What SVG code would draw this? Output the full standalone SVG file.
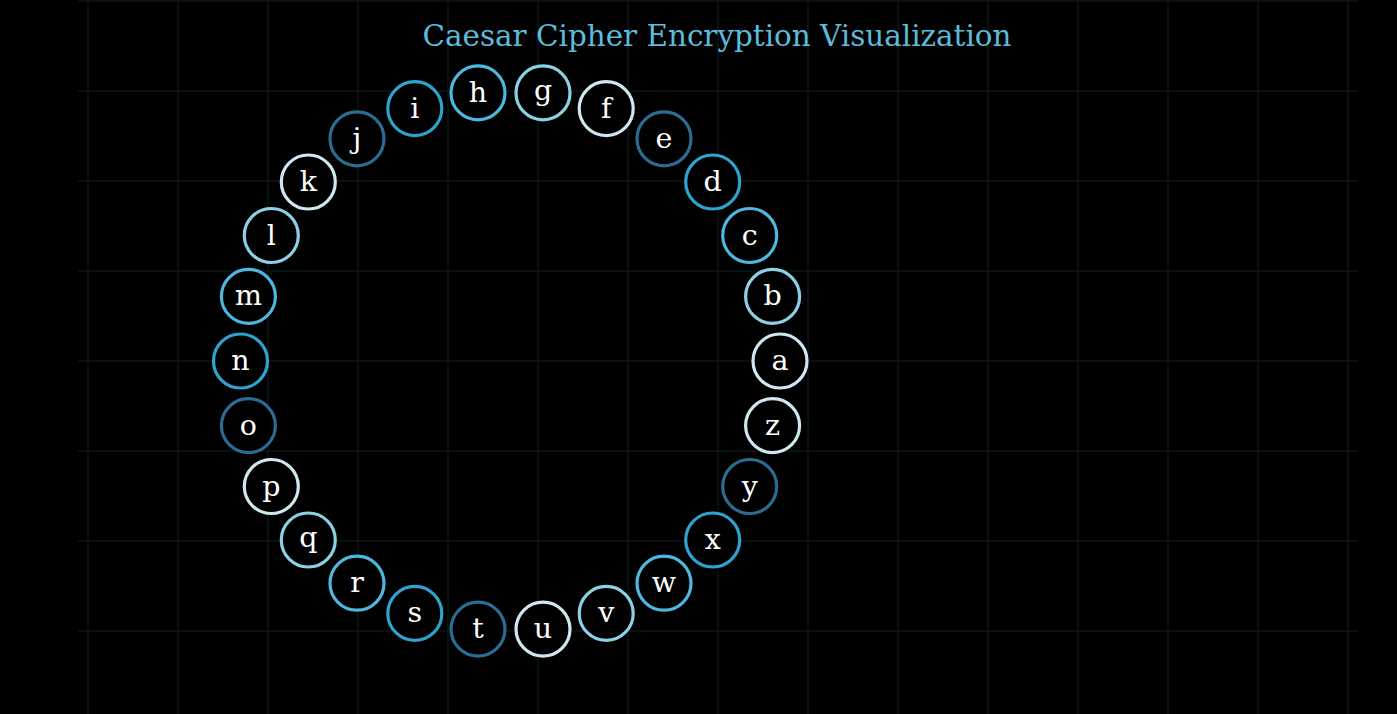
<svg xmlns="http://www.w3.org/2000/svg" width="1397" height="714" viewBox="0 0 1397 714">
<style>
.bg{fill:#000}
.grid line{stroke:#0c1618;stroke-width:1.5}
.title{font-family:"DejaVu Serif","Liberation Serif",serif;font-size:29px;fill:#5cbcdc;text-anchor:middle}
.node circle{fill:#000;stroke-width:3.2}
.node text{font-family:"DejaVu Serif","Liberation Serif",serif;font-size:28.5px;fill:#ffffff;text-anchor:middle}
.c0 circle{stroke:#cfe8f0}
.c1 circle{stroke:#8ccfe6}
.c2 circle{stroke:#4db7dd}
.c3 circle{stroke:#2ea3cf}
.c4 circle{stroke:#2b6c93}
</style>
<rect class="bg" x="0" y="0" width="1397" height="714"/>
<g class="grid" id="grid">
<line x1="88" y1="0" x2="88" y2="714"/><line x1="178" y1="0" x2="178" y2="714"/><line x1="268" y1="0" x2="268" y2="714"/><line x1="358" y1="0" x2="358" y2="714"/><line x1="448" y1="0" x2="448" y2="714"/><line x1="538" y1="0" x2="538" y2="714"/><line x1="628" y1="0" x2="628" y2="714"/><line x1="718" y1="0" x2="718" y2="714"/><line x1="808" y1="0" x2="808" y2="714"/><line x1="898" y1="0" x2="898" y2="714"/><line x1="988" y1="0" x2="988" y2="714"/><line x1="1078" y1="0" x2="1078" y2="714"/><line x1="1168" y1="0" x2="1168" y2="714"/><line x1="1258" y1="0" x2="1258" y2="714"/><line x1="1348" y1="0" x2="1348" y2="714"/>
<line x1="78" y1="1" x2="1358" y2="1"/><line x1="78" y1="91" x2="1358" y2="91"/><line x1="78" y1="181" x2="1358" y2="181"/><line x1="78" y1="271" x2="1358" y2="271"/><line x1="78" y1="361" x2="1358" y2="361"/><line x1="78" y1="451" x2="1358" y2="451"/><line x1="78" y1="541" x2="1358" y2="541"/><line x1="78" y1="631" x2="1358" y2="631"/>
</g>
<text class="title" x="717" y="46" textLength="589" lengthAdjust="spacingAndGlyphs">Caesar Cipher Encryption Visualization</text>
<g id="connectors"></g>
<g id="node-a" class="node c0"><circle cx="780" cy="361" r="27"/><text x="780" y="370">a</text></g>
<g id="node-b" class="node c1"><circle cx="772.6" cy="296.4" r="27"/><text x="772.6" y="305.4">b</text></g>
<g id="node-c" class="node c2"><circle cx="749.7" cy="235.5" r="27"/><text x="749.7" y="244.5">c</text></g>
<g id="node-d" class="node c3"><circle cx="712.7" cy="182" r="27"/><text x="712.7" y="191">d</text></g>
<g id="node-e" class="node c4"><circle cx="664" cy="138.8" r="27"/><text x="664" y="147.8">e</text></g>
<g id="node-f" class="node c0"><circle cx="606.2" cy="108.6" r="27"/><text x="606.2" y="117.6">f</text></g>
<g id="node-g" class="node c1"><circle cx="543" cy="92.9" r="27"/><text x="543" y="99.9">g</text></g>
<g id="node-h" class="node c2"><circle cx="478" cy="92.9" r="27"/><text x="478" y="101.9">h</text></g>
<g id="node-i" class="node c3"><circle cx="414.8" cy="108.6" r="27"/><text x="414.8" y="117.6">i</text></g>
<g id="node-j" class="node c4"><circle cx="357" cy="138.8" r="27"/><text x="357" y="147.8">j</text></g>
<g id="node-k" class="node c0"><circle cx="308.3" cy="182" r="27"/><text x="308.3" y="191">k</text></g>
<g id="node-l" class="node c1"><circle cx="271.3" cy="235.5" r="27"/><text x="271.3" y="244.5">l</text></g>
<g id="node-m" class="node c2"><circle cx="248.4" cy="296.4" r="27"/><text x="248.4" y="305.4">m</text></g>
<g id="node-n" class="node c3"><circle cx="240.5" cy="361" r="27"/><text x="240.5" y="370">n</text></g>
<g id="node-o" class="node c4"><circle cx="248.4" cy="425.6" r="27"/><text x="248.4" y="434.6">o</text></g>
<g id="node-p" class="node c0"><circle cx="271.3" cy="486.5" r="27"/><text x="271.3" y="495.5">p</text></g>
<g id="node-q" class="node c1"><circle cx="308.3" cy="540" r="27"/><text x="308.3" y="547">q</text></g>
<g id="node-r" class="node c2"><circle cx="357" cy="583.2" r="27"/><text x="357" y="592.2">r</text></g>
<g id="node-s" class="node c3"><circle cx="414.8" cy="613.4" r="27"/><text x="414.8" y="622.4">s</text></g>
<g id="node-t" class="node c4"><circle cx="478" cy="629.1" r="27"/><text x="478" y="638.1">t</text></g>
<g id="node-u" class="node c0"><circle cx="543" cy="629.1" r="27"/><text x="543" y="638.1">u</text></g>
<g id="node-v" class="node c1"><circle cx="606.2" cy="613.4" r="27"/><text x="606.2" y="622.4">v</text></g>
<g id="node-w" class="node c2"><circle cx="664" cy="583.2" r="27"/><text x="664" y="592.2">w</text></g>
<g id="node-x" class="node c3"><circle cx="712.7" cy="540" r="27"/><text x="712.7" y="549">x</text></g>
<g id="node-y" class="node c4"><circle cx="749.7" cy="486.5" r="27"/><text x="749.7" y="495.5">y</text></g>
<g id="node-z" class="node c0"><circle cx="772.6" cy="425.6" r="27"/><text x="772.6" y="434.6">z</text></g>
</svg>
